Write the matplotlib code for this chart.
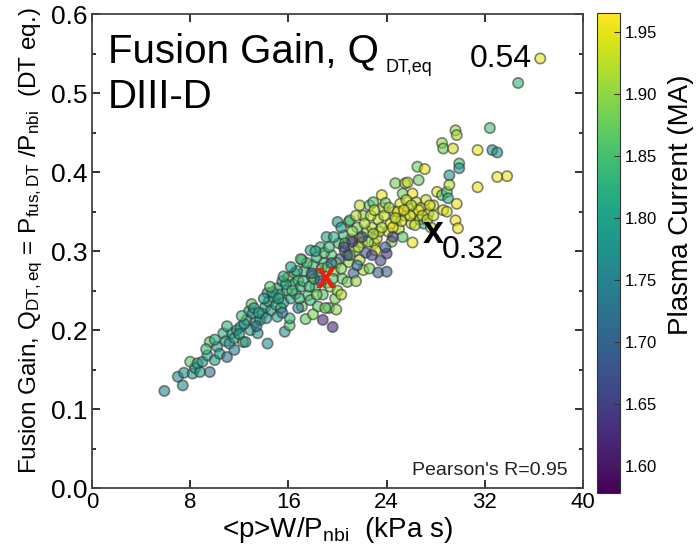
import numpy as np
import matplotlib
matplotlib.use("Agg")
import matplotlib.pyplot as plt
from matplotlib.ticker import MultipleLocator

plt.rcParams['font.family'] = ['Liberation Sans', 'DejaVu Sans']
plt.rcParams['mathtext.fontset'] = 'custom'
plt.rcParams['mathtext.rm'] = 'Liberation Sans'
plt.rcParams['mathtext.it'] = 'Liberation Sans'

# <p>W/P_nbi (kPa s), Q_DT,eq, plasma current (MA)
shots = [
    (5.9, .123, 1.76), (7.0, .141, 1.76), (7.4, .130, 1.76), (7.5, .146, 1.78), (8.0, .160, 1.86),
    (8.2, .145, 1.79), (8.4, .152, 1.80), (8.8, .147, 1.79), (8.6, .158, 1.80), (9.0, .160, 1.79),
    (9.4, .168, 1.80), (9.6, .147, 1.72), (9.6, .185, 1.86), (9.3, .176, 1.84), (10.0, .162, 1.79),
    (10.2, .179, 1.80), (10.4, .170, 1.79), (10.7, .196, 1.82), (10.9, .186, 1.80), (11.0, .166, 1.72),
    (11.2, .183, 1.79), (11.4, .196, 1.81), (11.6, .190, 1.80), (11.8, .200, 1.78), (12.1, .204, 1.80),
    (12.3, .185, 1.87), (12.5, .185, 1.77), (12.6, .213, 1.81), (12.9, .200, 1.80), (12.8, .224, 1.79),
    (13.0, .233, 1.87), (13.1, .221, 1.80), (13.3, .210, 1.79), (13.5, .196, 1.77), (13.7, .213, 1.81),
    (13.9, .221, 1.80), (14.1, .229, 1.80), (14.3, .183, 1.77), (14.3, .247, 1.74), (14.4, .236, 1.81),
    (14.6, .225, 1.79), (14.8, .241, 1.80), (15.0, .232, 1.82), (15.1, .253, 1.81), (15.1, .217, 1.80),
    (15.3, .245, 1.83), (15.5, .262, 1.80), (15.6, .235, 1.81), (15.7, .198, 1.77), (15.9, .250, 1.82),
    (16.0, .267, 1.87), (16.1, .206, 1.86), (16.1, .215, 1.83), (16.2, .240, 1.81), (16.4, .258, 1.82),
    (16.5, .272, 1.84), (16.6, .246, 1.80), (16.8, .263, 1.85), (17.0, .255, 1.83), (17.1, .289, 1.78),
    (17.1, .230, 1.88), (17.4, .214, 1.87), (17.3, .275, 1.83), (17.6, .244, 1.86), (17.8, .301, 1.80),
    (17.8, .238, 1.84), (17.9, .268, 1.86), (18.0, .282, 1.84), (18.2, .255, 1.87), (18.3, .292, 1.82),
    (18.4, .230, 1.86), (18.5, .270, 1.87), (18.6, .305, 1.83), (18.8, .213, 1.62), (18.8, .245, 1.86),
    (18.9, .285, 1.84), (19.1, .318, 1.80), (19.1, .260, 1.88), (19.3, .228, 1.85), (19.4, .255, 1.90),
    (19.5, .295, 1.86), (19.6, .204, 1.62), (19.7, .275, 1.89), (19.8, .240, 1.88), (20.0, .337, 1.78),
    (20.0, .250, 1.90), (20.1, .310, 1.85), (20.2, .290, 1.70), (20.4, .265, 1.87), (20.5, .320, 1.84),
    (20.6, .300, 1.89), (20.8, .261, 1.88), (20.9, .286, 1.90), (20.9, .337, 1.86), (21.0, .339, 1.84),
    (21.1, .315, 1.88), (21.3, .272, 1.70), (21.4, .300, 1.90), (21.6, .330, 1.88), (21.8, .358, 1.93),
    (21.8, .316, 1.94), (21.8, .289, 1.92), (22.0, .311, 1.94), (22.1, .276, 1.92), (22.1, .345, 1.90),
    (22.3, .298, 1.68), (22.4, .325, 1.91), (22.6, .358, 1.87), (22.6, .278, 1.88), (22.8, .330, 1.93),
    (22.9, .362, 1.86), (23.0, .310, 1.92), (23.1, .301, 1.94), (23.2, .316, 1.93), (23.3, .273, 1.70),
    (23.3, .340, 1.92), (23.5, .288, 1.66), (23.6, .371, 1.95), (23.7, .355, 1.92), (23.9, .361, 1.88),
    (24.0, .274, 1.70), (24.0, .297, 1.63), (24.1, .325, 1.93), (24.3, .335, 1.94), (24.4, .312, 1.90),
    (24.6, .350, 1.93), (24.7, .386, 1.88), (24.8, .340, 1.94), (25.0, .328, 1.92), (25.1, .360, 1.94),
    (25.3, .318, 1.86), (25.3, .373, 1.88), (25.5, .386, 1.93), (25.5, .345, 1.93), (25.7, .387, 1.92),
    (25.8, .355, 1.95), (26.0, .335, 1.93), (26.1, .311, 1.95), (26.1, .373, 1.95), (26.2, .348, 1.94),
    (26.4, .362, 1.93), (26.5, .407, 1.88), (26.6, .390, 1.88), (26.7, .340, 1.92), (26.8, .355, 1.94),
    (27.0, .335, 1.82), (27.1, .404, 1.95), (27.2, .365, 1.93), (27.4, .348, 1.94), (27.6, .330, 1.93),
    (27.8, .358, 1.92), (28.1, .375, 1.95), (28.5, .437, 1.90), (28.6, .430, 1.88), (28.5, .371, 1.86),
    (28.6, .352, 1.95), (28.9, .350, 1.94), (28.9, .375, 1.86), (29.0, .367, 1.82), (29.1, .396, 1.78),
    (29.1, .384, 1.92), (29.4, .430, 1.94), (29.6, .453, 1.90), (29.7, .447, 1.91), (29.6, .339, 1.95),
    (29.7, .360, 1.95), (29.8, .329, 1.95), (29.9, .411, 1.85), (29.9, .405, 1.78), (31.4, .428, 1.95),
    (31.4, .381, 1.95), (32.4, .456, 1.85), (32.6, .428, 1.78), (33.0, .425, 1.77), (33.0, .394, 1.95),
    (33.8, .395, 1.95), (34.7, .513, 1.83), (36.5, .544, 1.95),
    (12.0, .195, 1.79), (12.4, .208, 1.78), (13.2, .228, 1.79), (13.6, .222, 1.80), (14.0, .240, 1.79),
    (14.2, .215, 1.78), (14.7, .248, 1.81), (15.2, .240, 1.80), (15.4, .228, 1.83), (15.8, .258, 1.81),
    (16.3, .250, 1.85), (16.7, .275, 1.82), (16.9, .240, 1.84), (17.2, .262, 1.84), (17.5, .285, 1.85),
    (17.7, .255, 1.83), (18.1, .265, 1.86), (18.3, .245, 1.88), (18.7, .278, 1.86), (18.9, .298, 1.85),
    (19.2, .280, 1.88), (19.3, .305, 1.84), (19.6, .265, 1.86), (19.9, .285, 1.88), (20.3, .278, 1.89),
    (20.6, .310, 1.86), (21.0, .295, 1.88), (21.2, .325, 1.90), (21.5, .345, 1.92), (21.7, .305, 1.91),
    (22.2, .335, 1.92), (22.5, .312, 1.90), (22.7, .345, 1.93), (23.0, .352, 1.93), (23.4, .325, 1.94),
    (23.8, .345, 1.93), (24.2, .355, 1.92), (24.5, .330, 1.95), (24.9, .350, 1.94), (25.2, .338, 1.94),
    (25.6, .365, 1.93), (25.9, .345, 1.94), (26.3, .333, 1.93), (26.6, .352, 1.95), (26.9, .345, 1.93),
    (27.3, .340, 1.94), (27.5, .358, 1.95), (27.8, .345, 1.93), (26.0, .358, 1.92), (25.4, .352, 1.95),
    (24.7, .342, 1.93), (23.6, .330, 1.92), (22.9, .322, 1.91),
    (17.9, .272, 1.70), (18.6, .262, 1.68), (19.5, .285, 1.72), (20.8, .295, 1.66), (21.6, .282, 1.72),
    (22.8, .295, 1.65), (23.9, .305, 1.68), (20.5, .305, 1.64), (22.0, .318, 1.67), (24.5, .318, 1.64),
    (16.8, .228, 1.74), (15.5, .222, 1.72), (13.4, .205, 1.72), (11.6, .175, 1.74), (21.2, .312, 1.62),
    (14.5, .255, 1.87), (16.2, .280, 1.79), (17.0, .290, 1.86), (15.6, .268, 1.83), (18.2, .300, 1.81),
    (19.7, .318, 1.82), (20.3, .330, 1.79), (12.2, .218, 1.85), (11.0, .205, 1.83), (10.0, .188, 1.82),
    (19.0, .228, 1.88), (19.9, .226, 1.90), (20.3, .245, 1.92), (18.0, .220, 1.89), (21.5, .262, 1.90),
]
pW = np.array([s[0] for s in shots])
Qdt = np.array([s[1] for s in shots])
Ip = np.array([s[2] for s in shots])

ip_min, ip_max = 1.578, 1.965
cb_ticks = [1.60, 1.65, 1.70, 1.75, 1.80, 1.85, 1.90, 1.95]
red_x = (19.06, 0.266)
best_x = (27.8, 0.323)

fig = plt.figure(figsize=(6.96, 5.49), dpi=100)
ax = fig.add_axes([0.132, 0.111, 0.706, 0.863])
cax = fig.add_axes([0.858, 0.102, 0.033, 0.874])

ax.scatter(pW, Qdt, c=Ip, cmap='viridis', vmin=ip_min, vmax=ip_max, s=55,
           alpha=0.6, edgecolors='#333333', linewidths=1.2, zorder=2)

ax.set_xlim(0, 40)
ax.set_ylim(0, 0.6)
ax.xaxis.set_major_locator(MultipleLocator(8))
ax.yaxis.set_major_locator(MultipleLocator(0.1))
ax.yaxis.set_minor_locator(MultipleLocator(0.05))
ax.yaxis.set_major_formatter(matplotlib.ticker.FormatStrFormatter('%.1f'))
ax.tick_params(which='both', direction='in', top=True, right=True, color='#222222', width=1.3)
ax.tick_params(which='major', length=6)
ax.tick_params(which='minor', length=3)
ax.tick_params(axis='y', labelsize=19, pad=3)
ax.tick_params(axis='x', labelsize=16, pad=3)
for sp in ax.spines.values():
    sp.set_color('#444444')
    sp.set_linewidth(1.3)

ax.set_xlabel(r'<p>W/P$_{\mathrm{nbi}}$  (kPa s)', fontsize=20, labelpad=1)
ax.set_ylabel(r'Fusion Gain, Q$_{\mathrm{DT,eq}}$ = P$_{\mathrm{fus,DT}}$ /P$_{\mathrm{nbi}}$  (DT eq.)',
              fontsize=17.5)
ax.yaxis.set_label_coords(-0.096, 0.523)

t1 = ax.text(0.033, 0.899, 'Fusion Gain, Q', transform=ax.transAxes, fontsize=29, va='baseline')
ax.annotate('DT,eq', xy=(1, 0), xycoords=t1, xytext=(5, -1.5), textcoords='offset points',
            fontsize=13, va='baseline')
ax.text(0.033, 0.802, 'DIII-D', transform=ax.transAxes, fontsize=29, va='baseline')

ax.text(35.8, 0.533, '0.54', fontsize=23, ha='right', va='baseline')
ax.text(best_x[0], best_x[1], 'x', fontsize=27, fontweight='bold', ha='center', va='center', zorder=4)
ax.text(28.5, 0.291, '0.32', fontsize=23, ha='left', va='baseline')
ax.text(red_x[0], red_x[1], 'x', fontsize=26, fontweight='bold', color='#e8200c',
        ha='center', va='center', zorder=4)
ax.text(0.969, 0.027, "Pearson's R=0.95", transform=ax.transAxes, fontsize=14, ha='right',
        va='baseline', color='#222222')

sm = matplotlib.cm.ScalarMappable(norm=matplotlib.colors.Normalize(ip_min, ip_max), cmap='viridis')
cb = fig.colorbar(sm, cax=cax, ticks=cb_ticks)
cb.ax.tick_params(labelsize=12, direction='in', length=4, color='#333333')
cb.ax.yaxis.set_major_formatter(matplotlib.ticker.FormatStrFormatter('%.2f'))
cb.outline.set_edgecolor('#333333')
cb.set_label('Plasma Current (MA)', fontsize=20)
cb.ax.yaxis.set_label_coords(3.1, 0.6)

fig.savefig('out.png', dpi=100)
